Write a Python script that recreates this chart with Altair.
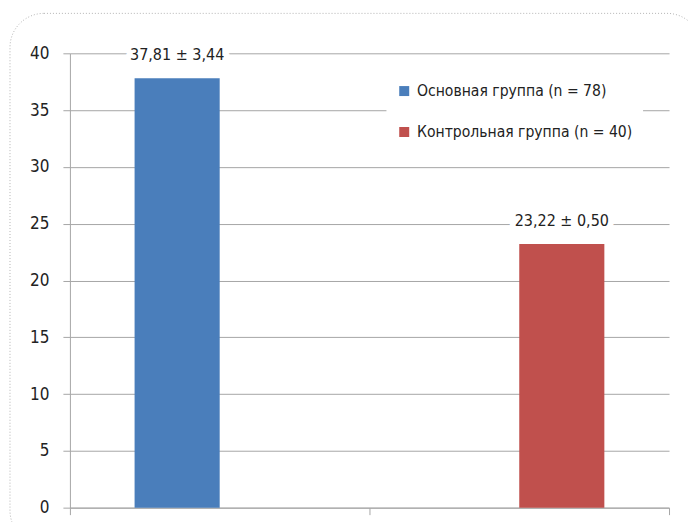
import altair as alt
import pandas as pd

categories = ["Группа 1", "Группа 2"]
series = ["Основная группа (n = 78)", "Контрольная группа (n = 40)"]
values = [37.81, 23.22]
labels = ["37,81 ± 3,44", "23,22 ± 0,50"]
colors = ["#4a7ebb", "#c0504d"]
y_ticks = [0, 5, 10, 15, 20, 25, 30, 35, 40]

FONT = "Liberation Sans Narrow, DejaVu Sans Condensed, sans-serif"
GRID = "#a6a6a6"

df = pd.DataFrame({"cat": categories, "series": series, "value": values, "label": labels})

x_enc = alt.X("cat:N", scale=alt.Scale(domain=categories, paddingInner=0, paddingOuter=0),
              axis=alt.Axis(labels=False, title=None, tickBand="extent", tickSize=7,
                            domainColor=GRID, tickColor=GRID, grid=False))
xo_enc = alt.XOffset("series:N", scale=alt.Scale(domain=series, paddingInner=0, paddingOuter=0.76))
y_enc = alt.Y("value:Q", scale=alt.Scale(domain=[0, 40], nice=False),
              axis=alt.Axis(values=y_ticks, title=None, tickSize=7, labelPadding=14,
                            domainColor=GRID, tickColor=GRID, gridColor=GRID,
                            labelFont=FONT, labelFontSize=17, labelColor="#222"))

base = alt.Chart(df)

bars = base.mark_bar().encode(
    x=x_enc, xOffset=xo_enc, y=y_enc,
    color=alt.Color("series:N", scale=alt.Scale(domain=series, range=colors),
                    legend=alt.Legend(title=None, orient="none", legendX=317, legendY=20,
                                      symbolType="square", symbolSize=100, symbolStrokeWidth=0,
                                      labelFont=FONT, labelFontSize=15.6, labelColor="#222",
                                      rowPadding=24, labelOffset=5, padding=10,
                                      fillColor="white", labelLimit=400)),
)

halo = base.mark_text(baseline="middle", dy=-23, font=FONT, fontSize=16,
                      color="white", stroke="white", strokeWidth=12, strokeJoin="round").encode(
    x=x_enc, xOffset=xo_enc, y=y_enc, text="label:N")

text = base.mark_text(baseline="middle", dy=-23, font=FONT, fontSize=16, color="#222").encode(
    x=x_enc, xOffset=xo_enc, y=y_enc, text="label:N")

border = alt.Chart(alt.Data(values=[{}])).mark_rect(
    fill=None, stroke="#b4b4b4", strokeDash=[1, 2], strokeWidth=1, cornerRadius=34
).encode(x=alt.value(-60), x2=alt.value(632), y=alt.value(-40), y2=alt.value(492))

chart = alt.layer(border, bars, halo, text).properties(
    width=600, height=455,
    autosize=alt.AutoSizeParams(type="none"),
    padding={"left": 62, "top": 45, "right": 20, "bottom": 14},
).configure_view(stroke=None)

chart.save("out.html", embed_options={"renderer": "svg", "actions": False})
